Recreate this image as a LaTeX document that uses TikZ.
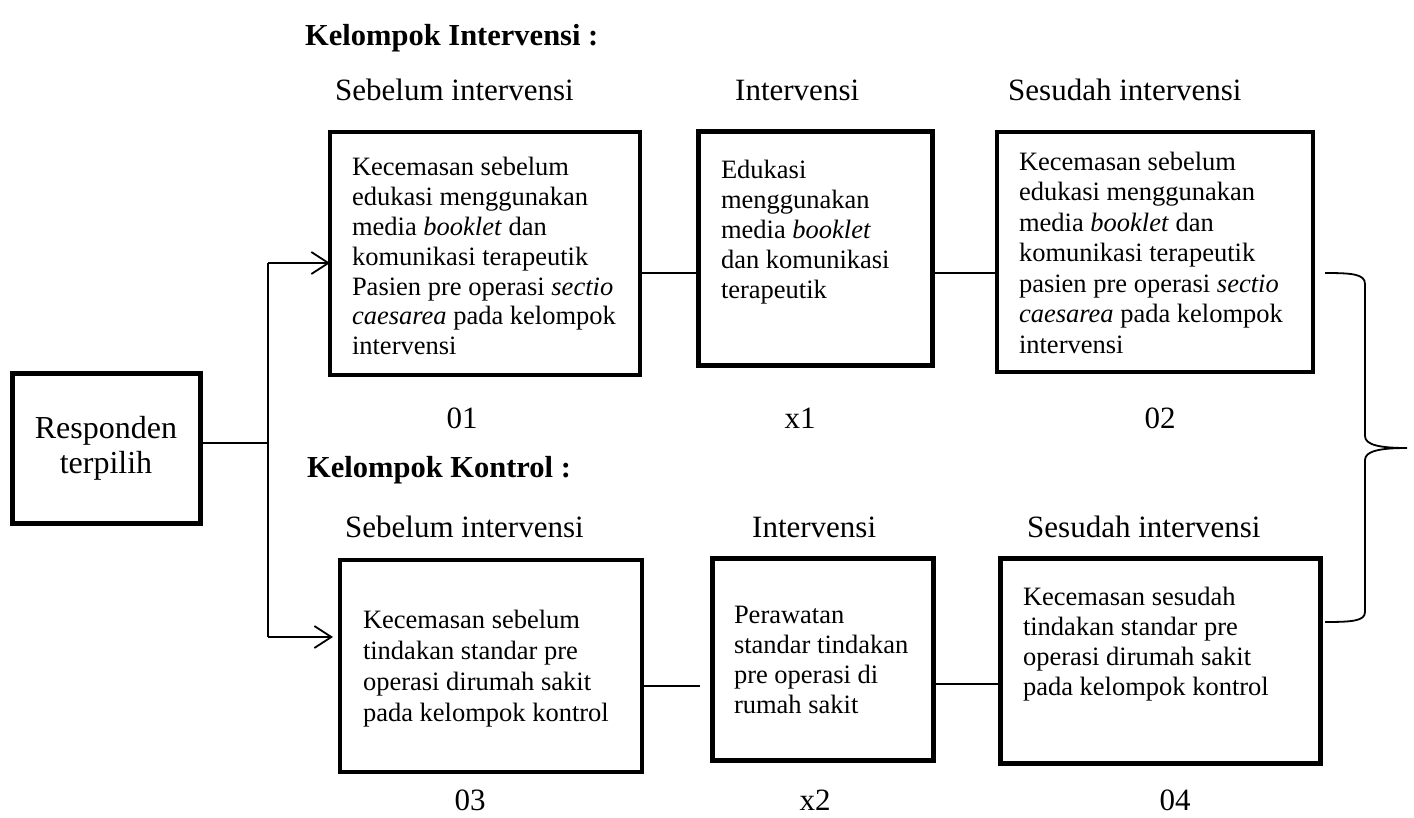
\documentclass[tikz,border=0pt]{standalone}
\usepackage{fontspec}
\setmainfont{Liberation Serif}
\usetikzlibrary{arrows.meta}
\newcommand\bxt[6]{\parbox[c][#2pt][t]{#1pt}{\fontsize{26.5pt}{#5pt}\selectfont\raggedright\leftskip=#4pt\relax\vspace*{#3pt}\strut #6}}
\begin{document}
\begin{tikzpicture}[x=1pt,y=-1pt,
  box/.style={draw, line width=4.5pt, inner sep=0pt, outer sep=0pt},
  conn/.style={line width=1.8pt},
  arr/.style={conn, -{Straight Barb[length=17pt,width=22pt]}},
  hdr/.style={inner sep=0pt, anchor=west, font=\fontsize{31pt}{36pt}\selectfont},
  ttl/.style={inner sep=0pt, anchor=west, font=\fontsize{30.5pt}{36pt}\selectfont\bfseries},
  num/.style={inner sep=0pt, font=\fontsize{31pt}{36pt}\selectfont},
]
\useasboundingbox (0,0) rectangle (1414,817);

% titles and headers
\node[ttl] (kint) at (305,38) {Kelompok Intervensi :};
\node[hdr] (s1) at (335,90) {Sebelum intervensi};
\node[hdr] (i1) at (735,90) {Intervensi};
\node[hdr] (a1) at (1008,90) {Sesudah intervensi};
\node[ttl] (kkon) at (307,470) {Kelompok Kontrol :};
\node[hdr] (s2) at (345,527) {Sebelum intervensi};
\node[hdr] (i2) at (752,527) {Intervensi};
\node[hdr] (a2) at (1027,527) {Sesudah intervensi};

% boxes
\node[box, line width=5pt, minimum width=188pt, minimum height=150pt, align=center,
      font=\fontsize{32pt}{35pt}\selectfont] (resp) at (106,448) {Responden\\terpilih};

\node[box, line width=3.5pt] (b1) at (485,253.5) {\bxt{310}{243}{23}{22}{29.8}{Kecemasan sebelum\\edukasi menggunakan\\media \textit{booklet} dan\\komunikasi terapeutik\\Pasien pre operasi \textit{sectio}\\\textit{caesarea} pada kelompok\\intervensi}};
\node[box, line width=5pt] (b2) at (815,248) {\bxt{234}{234}{26}{23}{30}{Edukasi\\menggunakan\\media \textit{booklet}\\dan komunikasi\\terapeutik}};
\node[box, line width=4pt] (b3) at (1155,252) {\bxt{316}{240}{17}{22}{30.5}{Kecemasan sebelum\\edukasi menggunakan\\media \textit{booklet} dan\\komunikasi terapeutik\\pasien pre operasi \textit{sectio}\\\textit{caesarea} pada kelompok\\intervensi}};

\node[box, line width=4.7pt] (b5) at (491,666) {\bxt{302}{212}{47}{23}{31}{Kecemasan sebelum\\tindakan standar pre\\operasi dirumah sakit\\pada kelompok kontrol}};
\node[box, line width=5pt] (b6) at (822.5,659) {\bxt{221}{202}{44}{22}{30}{Perawatan\\standar tindakan\\pre operasi di\\rumah sakit}};
\node[box, line width=5pt] (b7) at (1160,660.5) {\bxt{320}{205}{26}{23}{30}{Kecemasan sesudah\\tindakan standar pre\\operasi dirumah sakit\\pada kelompok kontrol}};

% numbers
\node[num] (n01) at (462,418) {01};
\node[num] (nx1) at (800,418) {x1};
\node[num] (n02) at (1160,418) {02};
\node[num] (n03) at (470,800) {03};
\node[num] (nx2) at (815,800) {x2};
\node[num] (n04) at (1175,800) {04};

% connectors
\coordinate (j) at (268,443);
\coordinate (jt) at (268,263);
\coordinate (jb) at (268,637);
\coordinate (ly1) at (0,273);
\coordinate (ly2) at (0,686);
\coordinate (ly3) at (0,684);
\draw[conn] (resp.east |- j) -- (j);
\draw[conn] (jt) -- (jb);
\draw[arr] (jt) -- (b1.west |- jt);
\draw[arr] (jb) -- ([xshift=-7pt]b5.west |- jb);
\draw[conn] (b1.east |- ly1) -- (b2.west |- ly1);
\draw[conn] (b2.east |- ly1) -- (b3.west |- ly1);
\draw[conn] (b5.east |- ly2) -- ([xshift=-12pt]b6.west |- ly2);
\draw[conn] (b6.east |- ly3) -- (b7.west |- ly3);

% brace
\draw[conn] (1325,273) .. controls (1352,273) and (1365,274) .. (1365,284) -- (1365,436)
  .. controls (1365,445) and (1380,448) .. (1407,448)
  .. controls (1380,448) and (1365,451) .. (1365,460) -- (1365,612)
  .. controls (1365,621) and (1352,622) .. (1325,622);
\end{tikzpicture}
\end{document}
